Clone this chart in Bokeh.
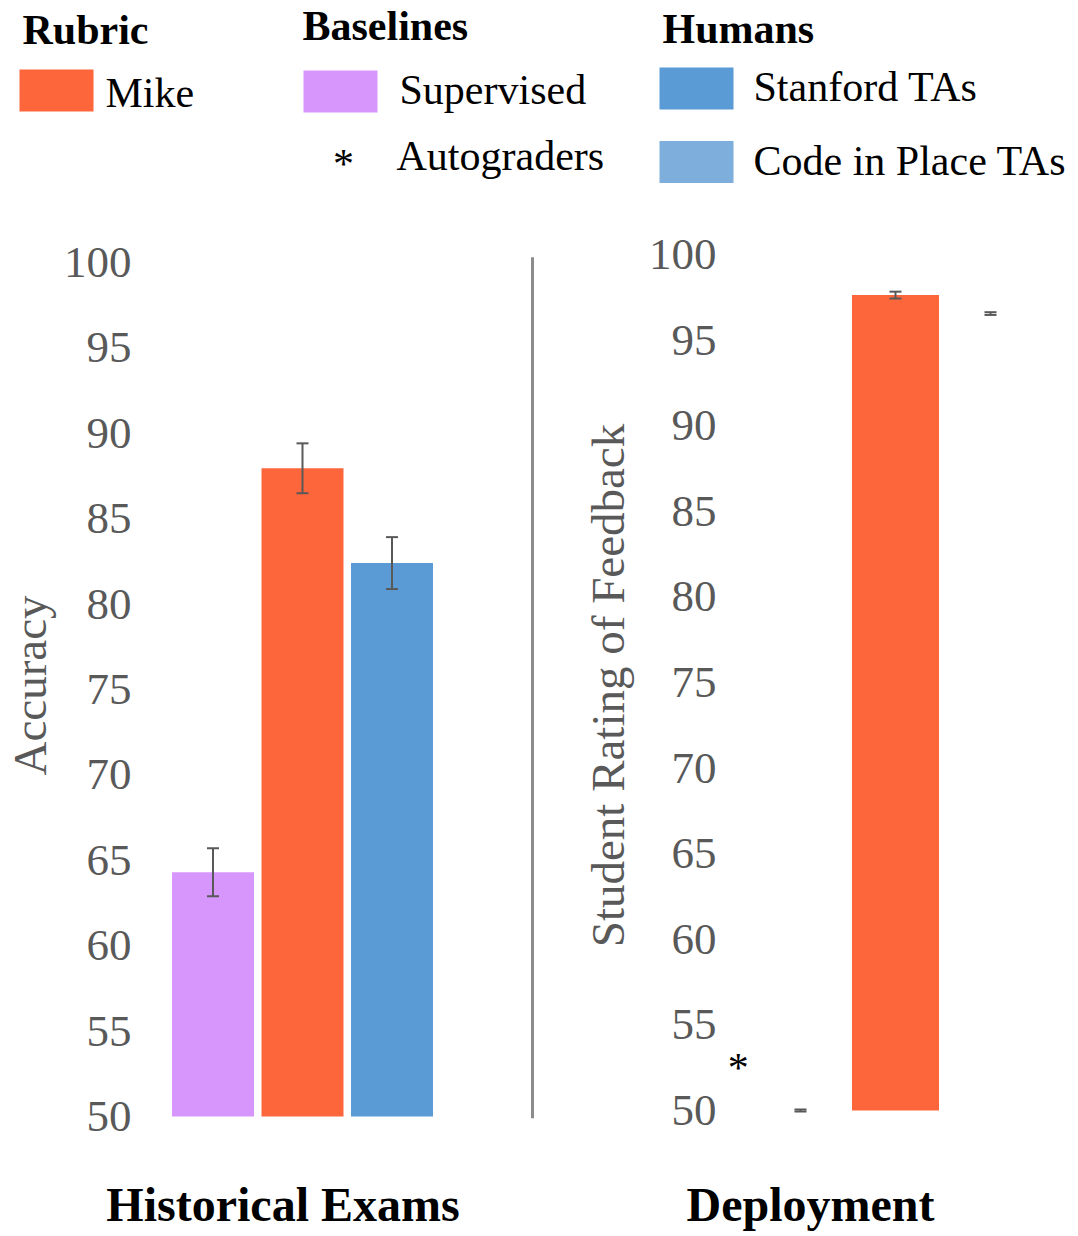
from bokeh.plotting import figure
from bokeh.layouts import column, row
from bokeh.models import Range1d, FixedTicker, ColumnDataSource, Whisker, TeeHead
from bokeh.core.properties import value
from bokeh.embed import file_html
from bokeh.resources import INLINE

# ---------------- data ----------------
hist_methods = ["Supervised", "Mike", "Stanford TAs"]
hist_values = [64.3, 87.95, 82.4]
hist_errors = [1.4, 1.46, 1.52]

dep_methods = ["Autograders", "Mike", "Code in Place TAs"]
dep_values = [50.0, 97.63, 96.55]
dep_errors = [0.06, 0.2, 0.08]

y_ticks = [50, 55, 60, 65, 70, 75, 80, 85, 90, 95, 100]

legend_groups = ["Rubric", "Baselines", "Humans"]
legend_items = ["Mike", "Supervised", "Autograders", "Stanford TAs", "Code in Place TAs"]
panel_titles = ["Historical Exams", "Deployment"]

COLORS = {
    "Mike": "#FD653B",
    "Supervised": "#D796FC",
    "Stanford TAs": "#5B9BD5",
    "Code in Place TAs": "#7DAEDC",
}
FONT = "Liberation Serif"
GREY = "#595959"


def style_panel(p, y_label, label_standoff_y):
    p.grid.visible = False
    p.outline_line_color = None
    p.yaxis.ticker = FixedTicker(ticks=y_ticks)
    p.yaxis.axis_line_color = None
    p.yaxis.major_tick_line_color = None
    p.yaxis.minor_tick_line_color = None
    p.yaxis.major_tick_out = 0
    p.yaxis.major_tick_in = 0
    p.yaxis.major_label_standoff = 10
    p.yaxis.major_label_text_font = FONT
    p.yaxis.major_label_text_font_size = "45px"
    p.yaxis.major_label_text_color = GREY
    p.yaxis.axis_label = y_label
    p.yaxis.axis_label_text_font = FONT
    p.yaxis.axis_label_text_font_size = "47px"
    p.yaxis.axis_label_text_font_style = "normal"
    p.yaxis.axis_label_text_color = GREY
    p.yaxis.axis_label_standoff = label_standoff_y


def add_whiskers(p, xs, vals, errs):
    src = ColumnDataSource(dict(
        x=xs,
        lo=[v - e for v, e in zip(vals, errs)],
        hi=[v + e for v, e in zip(vals, errs)],
    ))
    w = Whisker(source=src, base="x", lower="lo", upper="hi", level="overlay",
                line_color=GREY, line_width=2,
                lower_head=TeeHead(size=12, line_color=GREY, line_width=2),
                upper_head=TeeHead(size=12, line_color=GREY, line_width=2))
    p.add_layout(w)


# ---------------- legend figure (pixel coordinates) ----------------
leg = figure(width=1078, height=223, x_range=Range1d(0, 1078), y_range=Range1d(223, 0),
             output_backend="svg", toolbar_location=None, min_border=0,
             x_axis_location=None, y_axis_location=None)
leg.grid.visible = False
leg.outline_line_color = None

leg.text(x=[22, 302, 662], y=[29, 25, 28], text=legend_groups,
         text_font=value(FONT), text_font_size=value("42px"), text_font_style="bold",
         text_color="black", text_baseline="alphabetic", text_align="left")

sw_names = ["Mike", "Supervised", "Stanford TAs", "Code in Place TAs"]
leg.rect(x=[56, 340, 696, 696], y=[90, 91, 88, 161.5], width=74, height=42,
         fill_color=[COLORS[n] for n in sw_names], line_color=None)

leg.text(x=[105, 399, 396, 753, 753], y=[92, 89, 155, 86, 160], text=legend_items,
         text_font=value(FONT), text_font_size=value("42px"),
         text_color="black", text_baseline="alphabetic", text_align="left")
leg.text(x=[343], y=[163], text=["*"], text_font=value(FONT), text_font_size=value("42px"),
         text_color="black", text_baseline="alphabetic", text_align="center")

# ---------------- panels (frames share top/bottom pixels in a row) ----------------
PANEL_H = 921
TOP_B = 27
BOT_B = 24

left = figure(width=548, height=PANEL_H, x_range=Range1d(0.2011, 4.7486),
              y_range=Range1d(49.766, 100.70), output_backend="svg", toolbar_location=None,
              x_axis_location=None,
              min_border_left=141, min_border_right=0, min_border_top=TOP_B, min_border_bottom=BOT_B)
style_panel(left, "Accuracy", 5)
hx = list(range(1, len(hist_methods) + 1))
left.vbar(x=hx, top=hist_values, bottom=50, width=0.916,
          fill_color=[COLORS[m] for m in hist_methods], line_color=None)
add_whiskers(left, hx, hist_values, hist_errors)
left.segment(x0=[4.57], y0=[49.9], x1=[4.57], y1=[100.3], line_color="#8c8c8c", line_width=3)

right = figure(width=530, height=PANEL_H, x_range=Range1d(0.2211, 3.9263),
               y_range=Range1d(49.416, 100.234), output_backend="svg", toolbar_location=None,
               x_axis_location=None,
               min_border_left=178, min_border_right=0, min_border_top=TOP_B, min_border_bottom=BOT_B)
style_panel(right, "Student Rating of Feedback", 12)
dx = list(range(1, len(dep_methods) + 1))
bar_names = [m for m in dep_methods if m == "Mike"]
right.vbar(x=[dx[dep_methods.index(m)] for m in bar_names],
           top=[dep_values[dep_methods.index(m)] for m in bar_names],
           bottom=50, width=0.916,
           fill_color=[COLORS[m] for m in bar_names], line_color=None)
add_whiskers(right, dx, dep_values, dep_errors)
right.text(x=[dx[0] - 0.655], y=[dep_values[0] + 2.5], text=["*"],
           text_font=value(FONT), text_font_size=value("42px"), text_color="black",
           text_baseline="middle", text_align="center")

# ---------------- bottom titles ----------------
bot = figure(width=1078, height=92, x_range=Range1d(0, 1078), y_range=Range1d(92, 0),
             output_backend="svg", toolbar_location=None, min_border=0,
             x_axis_location=None, y_axis_location=None)
bot.grid.visible = False
bot.outline_line_color = None
bot.text(x=[282.5, 810], y=[60, 60], text=panel_titles,
         text_font=value(FONT), text_font_size=value("48px"), text_font_style="bold",
         text_color="black", text_baseline="alphabetic", text_align="center")

layout = column(leg, row(left, right), bot)
open("out.html", "w").write(file_html(layout, INLINE))
